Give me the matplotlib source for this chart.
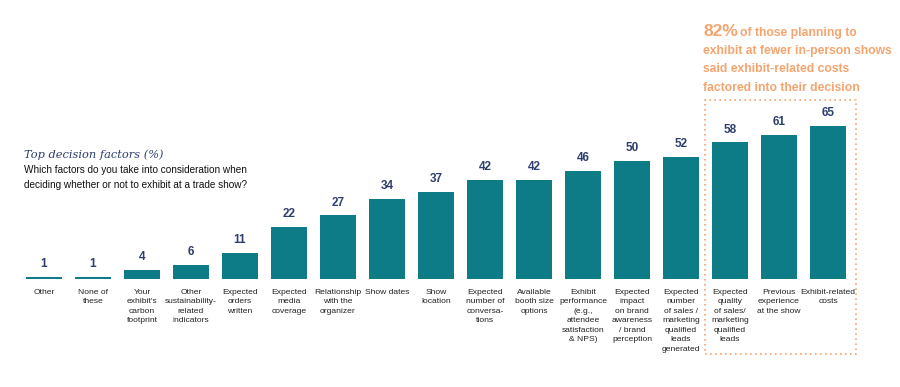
import matplotlib
matplotlib.use("Agg")
import matplotlib.pyplot as plt
from matplotlib.patches import Rectangle

categories = [
    "Other", "None of\nthese", "Your\nexhibit's\ncarbon\nfootprint",
    "Other\nsustainability-\nrelated\nindicators", "Expected\norders\nwritten",
    "Expected\nmedia\ncoverage", "Relationship\nwith the\norganizer", "Show dates",
    "Show\nlocation", "Expected\nnumber of\nconversa-\ntions",
    "Available\nbooth size\noptions",
    "Exhibit\nperformance\n(e.g.,\nattendee\nsatisfaction\n& NPS)",
    "Expected\nimpact\non brand\nawareness\n/ brand\nperception",
    "Expected\nnumber\nof sales /\nmarketing\nqualified\nleads\ngenerated",
    "Expected\nquality\nof sales/\nmarketing\nqualified\nleads",
    "Previous\nexperience\nat the show", "Exhibit-related\ncosts",
]
values = [1, 1, 4, 6, 11, 22, 27, 34, 37, 42, 42, 46, 50, 52, 58, 61, 65]

TEAL = "#0e7c86"
NAVY = "#2e3f6e"
ORANGE = "#f5a46e"
NARROW = ["Liberation Sans Narrow", "Liberation Sans", "DejaVu Sans"]

W, H = 900, 387
fig = plt.figure(figsize=(W / 100, H / 100), dpi=100)
left_px, right_px = 19.5, 852.5
base_px, top_px = 279, 126
ax = fig.add_axes([left_px / W, (H - base_px) / H, (right_px - left_px) / W,
                   (base_px - top_px) / H])
x = list(range(len(values)))
ax.bar(x, values, width=0.75, color=TEAL)
ax.set_xlim(-0.5, len(values) - 0.5)
ax.set_ylim(0, 65)
ax.axis("off")

for xi, v, c in zip(x, values, categories):
    ax.annotate(str(v), (xi, v), xytext=(0, 5), textcoords="offset points",
                ha="center", va="bottom", fontsize=8.5, fontweight="bold",
                color=NAVY, family=NARROW)
    ax.annotate(c, (xi, 0), xytext=(0, -7), textcoords="offset points",
                ha="center", va="top", fontsize=6.1, color="#222222",
                family=NARROW, linespacing=1.5, annotation_clip=False)

# dotted highlight box
fig.patches.append(Rectangle((705 / W, (H - 354) / H), (856 - 705) / W,
                             (354 - 100) / H, transform=fig.transFigure,
                             fill=False, edgecolor=ORANGE, linestyle=(0, (1, 2)),
                             linewidth=1.2))

# callout text
fig.text(703 / W, 1 - 32 / H, "82%", fontsize=12.5, fontweight="bold",
         color=ORANGE, va="center", ha="left", family=NARROW)
fig.text(740 / W, 1 - 33 / H, "of those planning to", fontsize=8.7,
         fontweight="bold", color=ORANGE, va="center", ha="left", family=NARROW)
for i, line in enumerate(["exhibit at fewer in-person shows",
                          "said exhibit-related costs",
                          "factored into their decision"]):
    fig.text(703 / W, 1 - (51 + i * 18.5) / H, line, fontsize=8.7,
             fontweight="bold", color=ORANGE, va="center", ha="left",
             family=NARROW)

# title & subtitle
fig.text(24 / W, 1 - 155 / H, "Top decision factors (%)", fontsize=8.2,
         style="italic", color=NAVY, va="center", ha="left",
         family=["DejaVu Serif"])
fig.text(24 / W, 1 - 170 / H, "Which factors do you take into consideration when",
         fontsize=7.2, color="#111111", va="center", ha="left", family=NARROW)
fig.text(24 / W, 1 - 185 / H, "deciding whether or not to exhibit at a trade show?",
         fontsize=7.2, color="#111111", va="center", ha="left", family=NARROW)

fig.savefig("out.png", dpi=100)
